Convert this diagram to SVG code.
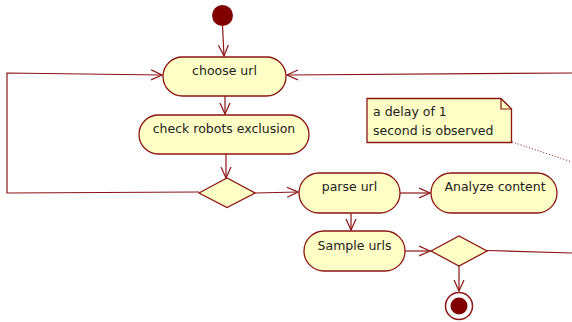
<svg xmlns="http://www.w3.org/2000/svg" width="572" height="322" viewBox="0 0 572 322">
<defs>
<style>
.act{fill:#FFFFC6;stroke:#8B1414;stroke-width:1.3}
.lbl{font-family:"DejaVu Sans",Verdana,sans-serif;font-size:12.5px;fill:#222;text-anchor:middle}
.note{font-family:"DejaVu Sans",Verdana,sans-serif;font-size:12.5px;fill:#222}
.ln{fill:none;stroke:#8B1414;stroke-width:1.2}
</style>
<marker id="arr" viewBox="0 0 12 12" refX="11" refY="6" markerWidth="12" markerHeight="12" markerUnits="userSpaceOnUse" orient="auto">
<path d="M0,1 L11,6 L0,11" fill="none" stroke="#8B1414" stroke-width="1.2"/>
</marker>
</defs>
<rect width="572" height="322" fill="#fff"/>
<g id="connectors">
<line class="ln" x1="222.5" y1="26" x2="224" y2="56" marker-end="url(#arr)"/>
<line class="ln" x1="225" y1="96" x2="225" y2="114" marker-end="url(#arr)"/>
<line class="ln" x1="226" y1="154" x2="226" y2="178" marker-end="url(#arr)"/>
<polyline class="ln" points="199,192 7,193 7,73 162,75" marker-end="url(#arr)"/>
<line class="ln" x1="572" y1="73" x2="287" y2="75" marker-end="url(#arr)"/>
<line class="ln" x1="255" y1="193" x2="298" y2="192" marker-end="url(#arr)"/>
<line class="ln" x1="400" y1="193" x2="430" y2="193" marker-end="url(#arr)"/>
<line class="ln" x1="351" y1="213" x2="351" y2="230" marker-end="url(#arr)"/>
<line class="ln" x1="405" y1="251" x2="430" y2="251" marker-end="url(#arr)"/>
<line class="ln" x1="487" y1="250.5" x2="572" y2="253"/>
<line class="ln" x1="459" y1="266" x2="459" y2="291" marker-end="url(#arr)"/>
<line x1="512" y1="142" x2="572" y2="162" stroke="#8B1414" stroke-width="1" stroke-dasharray="1,2"/>
</g>
<g id="start"><circle cx="222.5" cy="15.5" r="10.5" fill="#800000"/></g>
<g id="choose"><rect class="act" x="163" y="57" width="123" height="39" rx="19.5"/><text class="lbl" x="224.5" y="75">choose url</text></g>
<g id="check"><rect class="act" x="139" y="115" width="170" height="39" rx="19.5"/><text class="lbl" x="224" y="133">check robots exclusion</text></g>
<g id="decision1"><polygon class="act" points="199,193 227,178 255,193 227,207.5"/></g>
<g id="parse"><rect class="act" x="299" y="173" width="101" height="40" rx="20"/><text class="lbl" x="349.5" y="191">parse url</text></g>
<g id="analyze"><rect class="act" x="431" y="173" width="126" height="40" rx="20"/><text class="lbl" x="495" y="191">Analyze content</text></g>
<g id="sample"><rect class="act" x="304" y="231" width="101" height="40" rx="20"/><text class="lbl" x="354.5" y="250">Sample urls</text></g>
<g id="decision2"><polygon class="act" points="431,251 459,236 487,251 459,266"/></g>
<g id="end"><circle cx="459" cy="306" r="13.5" fill="#fff" stroke="#8B1414" stroke-width="1.5"/><circle cx="459" cy="306" r="8.5" fill="#800000"/></g>
<g id="note1">
<path class="act" d="M367,98.5 H501 L511.5,109 V142.5 H367 Z"/>
<path d="M501,98.5 V109 H511.5" fill="none" stroke="#8B1414" stroke-width="1.2"/>
<text class="note" x="373" y="116">a delay of 1</text>
<text class="note" x="373" y="135">second is observed</text>
</g>
</svg>
